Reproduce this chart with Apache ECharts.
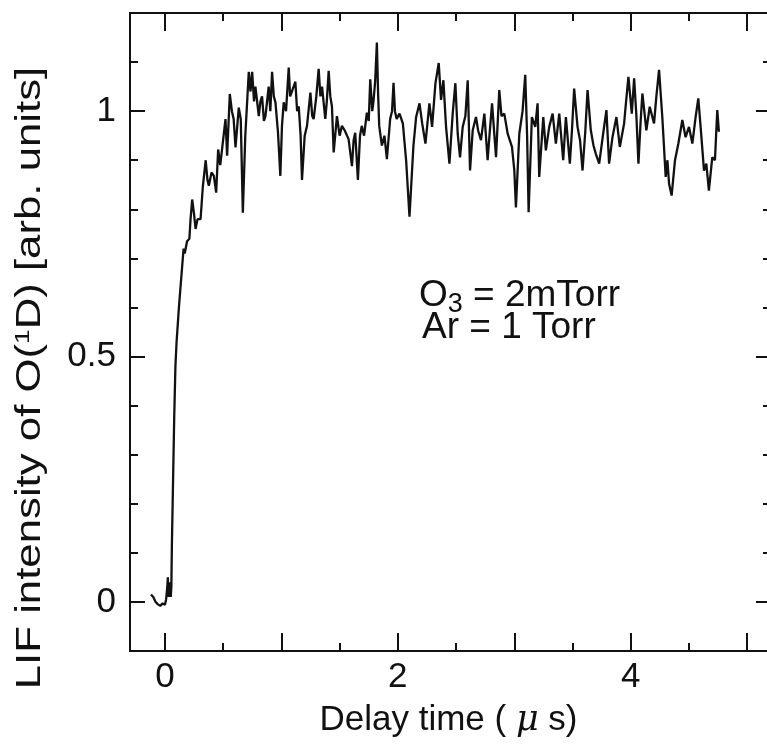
<!DOCTYPE html>
<html>
<head>
<meta charset="utf-8">
<script src="https://cdn.jsdelivr.net/npm/echarts@6/dist/echarts.min.js"></script>
<style>
  html, body { margin: 0; padding: 0; background: #fff; }
  #chart { width: 767px; height: 750px; }
</style>
</head>
<body>
<div id="chart"></div>
<script>
// LIF signal of O(1D) vs delay time
const delayTime = [
  -0.12, -0.10, -0.08, -0.06, -0.04, -0.02, 0.00, 0.01, 0.02, 0.025, 0.03, 0.04, 0.05, 0.055,
  0.06, 0.07, 0.08, 0.09, 0.10, 0.12, 0.14, 0.15, 0.16, 0.17, 0.19, 0.21, 0.22, 0.234,
  0.25, 0.263, 0.28, 0.306, 0.326, 0.35, 0.365, 0.377, 0.40, 0.42, 0.44, 0.457, 0.475, 0.49,
  0.52, 0.534, 0.557, 0.575, 0.59, 0.606, 0.634, 0.651, 0.669, 0.69, 0.72, 0.735, 0.749, 0.765,
  0.777, 0.806, 0.82, 0.834, 0.85, 0.863, 0.891, 0.905, 0.92, 0.935, 0.949, 0.971, 0.991, 1.005,
  1.02, 1.04, 1.063, 1.075, 1.09, 1.12, 1.135, 1.149, 1.165, 1.177, 1.20, 1.22, 1.249, 1.265,
  1.277, 1.30, 1.32, 1.335, 1.349, 1.377, 1.39, 1.406, 1.42, 1.434, 1.449, 1.477, 1.50, 1.52,
  1.545, 1.577, 1.606, 1.62, 1.634, 1.657, 1.675, 1.69, 1.71, 1.734, 1.75, 1.763, 1.78, 1.79,
  1.805, 1.82, 1.83, 1.84, 1.863, 1.885, 1.906, 1.934, 1.95, 1.963, 1.975, 1.99, 2.014, 2.043,
  2.071, 2.10, 2.134, 2.157, 2.186, 2.209, 2.237, 2.271, 2.294, 2.323, 2.351, 2.371, 2.391, 2.414,
  2.443, 2.471, 2.494, 2.514, 2.534, 2.557, 2.58, 2.60, 2.62, 2.643, 2.671, 2.69, 2.714, 2.743,
  2.771, 2.79, 2.809, 2.843, 2.871, 2.89, 2.914, 2.943, 2.98, 3.00, 3.014, 3.043, 3.071, 3.094,
  3.11, 3.123, 3.151, 3.18, 3.20, 3.214, 3.249, 3.271, 3.30, 3.329, 3.357, 3.386, 3.42, 3.443,
  3.477, 3.495, 3.514, 3.543, 3.565, 3.586, 3.61, 3.629, 3.657, 3.68, 3.70, 3.729, 3.763, 3.791,
  3.814, 3.843, 3.877, 3.906, 3.943, 3.96, 3.98, 4.009, 4.029, 4.049, 4.066, 4.085, 4.10, 4.134,
  4.163, 4.20, 4.22, 4.243, 4.271, 4.30, 4.315, 4.329, 4.351, 4.38, 4.409, 4.443, 4.471, 4.50,
  4.529, 4.557, 4.58, 4.60, 4.629, 4.649, 4.671, 4.70, 4.723, 4.743, 4.757
];
const lifIntensity = [
  0.015, 0.01, 0.0, -0.005, -0.008, -0.003, -0.006, 0.005, 0.03, 0.05, 0.01, 0.04, 0.01, 0.03,
  0.12, 0.25, 0.38, 0.48, 0.53, 0.60, 0.66, 0.69, 0.72, 0.71, 0.735, 0.74, 0.78, 0.82,
  0.79, 0.76, 0.78, 0.78, 0.848, 0.90, 0.86, 0.848, 0.875, 0.868, 0.834, 0.922, 0.89, 0.888,
  0.984, 0.909, 1.035, 1.0, 0.984, 0.926, 1.007, 0.984, 0.793, 0.95, 1.08, 1.04, 1.08, 1.02,
  1.05, 0.99, 1.02, 1.03, 0.98, 0.99, 1.05, 1.0, 1.08, 1.03, 1.018, 0.956, 0.868, 0.97,
  1.018, 1.0, 1.089, 1.03, 1.04, 1.06, 1.0, 1.01, 0.95, 0.86, 0.95, 0.97, 1.038, 0.99,
  0.984, 1.03, 1.086, 1.03, 1.05, 0.984, 1.02, 1.082, 1.03, 1.01, 0.916, 0.99, 0.95, 0.97,
  0.96, 0.943, 0.888, 0.94, 0.956, 0.86, 0.95, 0.97, 0.95, 0.997, 0.98, 1.065, 1.0, 1.018,
  1.06, 1.14, 1.04, 0.97, 0.93, 0.95, 0.902, 0.984, 1.0, 1.058, 1.0, 0.984, 0.995, 0.975,
  0.90, 0.785, 0.93, 0.988, 1.016, 0.975, 0.934, 1.016, 0.968, 1.057, 1.098, 1.023, 1.063, 0.968,
  0.893, 0.995, 1.057, 0.954, 0.906, 0.968, 0.99, 1.063, 0.879, 0.961, 0.988, 0.96, 0.941, 0.995,
  0.90, 0.96, 1.016, 0.906, 1.043, 0.99, 0.995, 0.954, 0.927, 0.88, 0.804, 0.954, 1.0, 1.074,
  0.95, 0.794, 0.988, 0.968, 1.016, 0.866, 0.988, 0.92, 0.968, 0.995, 0.934, 0.995, 0.90, 0.988,
  0.893, 0.96, 1.046, 0.968, 0.94, 0.879, 0.96, 1.043, 0.961, 0.93, 0.913, 0.893, 0.954, 1.002,
  0.893, 0.947, 0.988, 0.927, 0.975, 1.02, 1.07, 0.995, 1.067, 0.988, 0.893, 0.98, 1.036, 0.961,
  1.009, 0.975, 1.03, 1.084, 0.988, 0.866, 0.90, 0.852, 0.828, 0.90, 0.934, 0.982, 0.947, 0.968,
  0.934, 0.988, 1.026, 0.968, 0.879, 0.893, 0.838, 0.906, 0.90, 1.002, 0.958
];

const xMajorTicks = [0, 1, 2, 3, 4, 5];
const xMinorTicks = [0.5, 1.5, 2.5, 3.5, 4.5];
const xTickLabels = [0, 2, 4];
const yMajorTicks = [0, 0.5, 1];
const yMinorTicks = [0.1, 0.2, 0.3, 0.4, 0.6, 0.7, 0.8, 0.9, 1.1];
const yTickLabels = [0, 0.5, 1];

const FONT = '"Liberation Sans", Arial, Helvetica, sans-serif';
const INK = '#111';

const chart = echarts.init(document.getElementById('chart'));

// one axis per tick set, stacked on the same grid
const xAx = (pos, ticks, len, labels, line) => ({
  type: 'value', position: pos, min: -0.3, max: 5.17,
  axisLine: { show: line, onZero: false, lineStyle: { color: INK, width: 2 } },
  axisTick: { show: true, inside: true, length: len, customValues: ticks, lineStyle: { color: INK, width: 2 } },
  axisLabel: labels
    ? { show: true, customValues: labels, margin: 9, fontSize: 35, color: INK, fontFamily: FONT }
    : { show: false },
  splitLine: { show: false }
});
const yAx = (pos, ticks, len, labels, line) => ({
  type: 'value', position: pos, min: -0.1, max: 1.2,
  axisLine: { show: line, onZero: false, lineStyle: { color: INK, width: 2 } },
  axisTick: { show: true, inside: true, length: len, customValues: ticks, lineStyle: { color: INK, width: 2 } },
  axisLabel: labels
    ? { show: true, customValues: labels, margin: 14, fontSize: 35, color: INK, fontFamily: FONT }
    : { show: false },
  splitLine: { show: false }
});

const xAxes = [
  xAx('bottom', xMajorTicks, 18, xTickLabels, true),
  xAx('bottom', xMinorTicks, 8, null, false),
  xAx('top', xMajorTicks, 18, null, true),
  xAx('top', xMinorTicks, 8, null, false)
];
xAxes[0].name = 'Delay time ( {mu|μ} s)';
xAxes[0].nameLocation = 'middle';
xAxes[0].nameGap = 52;
xAxes[0].nameTextStyle = {
  fontSize: 35, color: INK, fontFamily: FONT,
  rich: { mu: { fontSize: 35, fontStyle: 'italic', fontFamily: '"DejaVu Serif", serif', color: INK } }
};

chart.setOption({
  animation: false,
  backgroundColor: '#fff',
  grid: { left: 130, right: 0, top: 13, bottom: 99 },
  xAxis: xAxes,
  yAxis: [
    yAx('left', yMajorTicks, 15, yTickLabels, true),
    yAx('left', yMinorTicks, 8, null, false),
    // the right frame line sits just past the cropped edge, only tick stubs show
    yAx('right', yMajorTicks, 11, null, false),
    yAx('right', yMinorTicks, 4, null, false)
  ],
  graphic: [
    {
      type: 'text', x: 30, y: 378, rotation: Math.PI / 2, scaleX: 1.25,
      style: {
        text: 'LIF intensity of O({sup|1}D) [arb. units]',
        fill: INK, font: '35px ' + FONT, align: 'center', verticalAlign: 'middle',
        rich: { sup: { fontSize: 21, fill: INK, fontFamily: FONT, padding: [0, 0, 14, 0] } }
      }
    },
    {
      type: 'text', x: 419, y: 296,
      style: {
        text: 'O{sub|3} = 2mTorr',
        fill: INK, font: '37px ' + FONT, align: 'left', verticalAlign: 'middle',
        rich: { sub: { fontSize: 27, fill: INK, fontFamily: FONT, padding: [18, 0, 0, 0] } }
      }
    },
    {
      type: 'text', x: 422, y: 328,
      style: { text: 'Ar = 1 Torr', fill: INK, font: '37px ' + FONT, align: 'left', verticalAlign: 'middle' }
    }
  ],
  series: [{
    type: 'line',
    xAxisIndex: 0,
    yAxisIndex: 0,
    data: delayTime.map((t, i) => [t, lifIntensity[i]]),
    showSymbol: false,
    lineStyle: { color: INK, width: 2.3 },
    silent: true
  }]
});
</script>
</body>
</html>
